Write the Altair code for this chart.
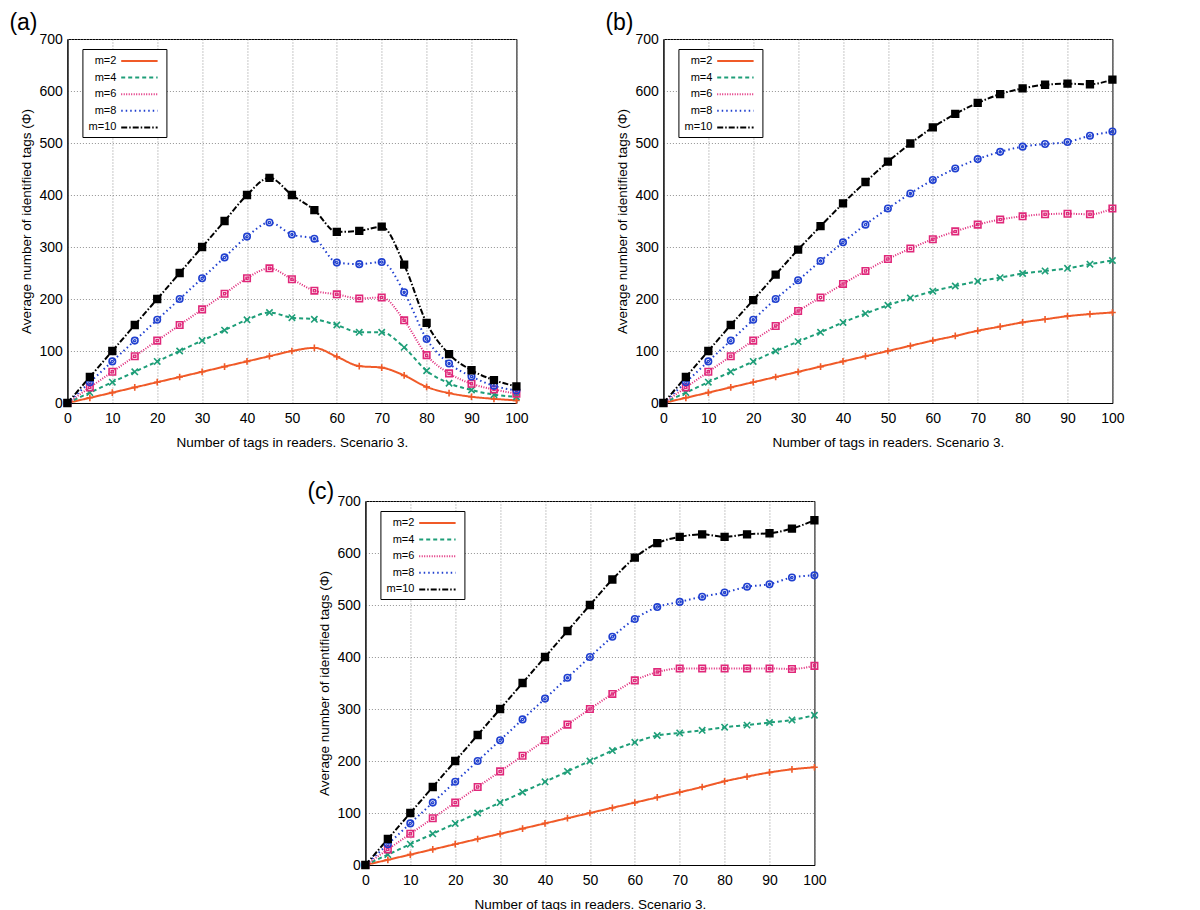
import altair as alt
import pandas as pd

x_vals = list(range(0, 101, 5))
series_names = ["m=2", "m=4", "m=6", "m=8", "m=10"]

# Panel (a)
a_m2 = [0, 10, 20, 30, 40, 50, 60, 70, 80, 90, 100, 106, 89, 71, 68, 53, 31, 19, 12, 8, 5]
a_m4 = [0, 20, 40, 60, 80, 100, 120, 140, 160, 174, 164, 161, 150, 136, 136, 107, 62, 38, 25, 16, 12]
a_m6 = [0, 30, 60, 90, 120, 150, 180, 210, 240, 259, 238, 216, 209, 201, 203, 159, 92, 57, 37, 26, 18]
a_m8 = [0, 40, 80, 120, 160, 200, 240, 280, 320, 347, 324, 316, 270, 267, 271, 213, 123, 76, 51, 33, 24]
a_m10 = [0, 50, 100, 150, 200, 250, 300, 350, 400, 433, 400, 371, 329, 331, 339, 266, 154, 94, 63, 44, 32]

# Panel (b)
b_m2 = [0, 10, 20, 30, 40, 50, 60, 70, 80, 90, 100, 110, 120, 129, 139, 147, 155, 161, 167, 171, 174]
b_m4 = [0, 20, 40, 60, 80, 100, 118, 136, 155, 172, 188, 202, 215, 225, 234, 241, 249, 254, 259, 267, 274]
b_m6 = [0, 30, 60, 90, 120, 148, 177, 203, 229, 254, 277, 297, 315, 330, 343, 353, 359, 363, 364, 363, 374]
b_m8 = [0, 40, 80, 120, 160, 200, 236, 273, 309, 343, 374, 403, 429, 451, 469, 483, 493, 498, 502, 514, 522]
b_m10 = [0, 50, 100, 150, 198, 247, 295, 340, 384, 425, 464, 499, 530, 556, 577, 594, 605, 612, 614, 613, 622]

# Panel (c)
c_m2 = [0, 10, 20, 30, 40, 50, 60, 70, 80, 90, 100, 110, 120, 130, 140, 150, 161, 170, 178, 184, 188]
c_m4 = [0, 20, 40, 60, 80, 100, 120, 140, 160, 180, 200, 220, 236, 249, 254, 259, 265, 269, 274, 279, 288]
c_m6 = [0, 30, 60, 90, 120, 150, 180, 210, 240, 270, 300, 329, 355, 371, 378, 378, 378, 378, 378, 377, 383]
c_m8 = [0, 40, 80, 120, 160, 200, 240, 280, 320, 360, 400, 439, 473, 496, 506, 516, 524, 535, 540, 553, 557]
c_m10 = [0, 50, 100, 150, 200, 250, 300, 350, 400, 450, 500, 549, 591, 619, 631, 636, 631, 636, 638, 647, 663]

x_title = "Number of tags in readers. Scenario 3."
y_title = "Average number of identified tags (Φ)"

colors = ["#f05a28", "#1e9e78", "#e0287a", "#2040d0", "#000000"]
dashes = [[1, 0], [4, 3], [1, 1.5], [1.5, 3], [6, 2, 1.5, 2]]
widths = [2, 2, 1.2, 2, 1.5]
shapes = ["M-1,0L1,0M0,-1L0,1", "M-1,-1L1,1M-1,1L1,-1", "square", "circle", "square"]
fills = ["transparent", "transparent", "transparent", "transparent", "#000000"]
sizes = [45, 40, 42, 42, 45]

FONT = "Liberation Sans"


def make_df(series_lists):
    rows = []
    for name, vals in zip(series_names, series_lists):
        for xv, yv in zip(x_vals, vals):
            rows.append({"x": xv, "y": yv, "series": name})
    return pd.DataFrame(rows)


def panel(label, series_lists, title_offset):
    df = make_df(series_lists)
    xenc = alt.X("x:Q", title=x_title,
                 scale=alt.Scale(domain=[0, 100], nice=False),
                 axis=alt.Axis(values=list(range(0, 101, 10)), labelFlush=False))
    yenc = alt.Y("y:Q", title=y_title,
                 scale=alt.Scale(domain=[0, 700], nice=False),
                 axis=alt.Axis(values=list(range(0, 701, 100)), labelFlush=False))
    base = alt.Chart(df)
    lines = base.mark_line(interpolate="monotone").encode(
        x=xenc, y=yenc,
        color=alt.Color("series:N", scale=alt.Scale(domain=series_names, range=colors),
                        legend=alt.Legend(title=None)),
        strokeDash=alt.StrokeDash("series:N",
                                  scale=alt.Scale(domain=series_names, range=dashes),
                                  legend=alt.Legend(title=None)),
        strokeWidth=alt.StrokeWidth("series:N",
                                    scale=alt.Scale(domain=series_names, range=widths),
                                    legend=None),
    )
    layers = [lines]
    for name, col, shp, fil, sz in zip(series_names, colors, shapes, fills, sizes):
        sub = base.transform_filter(alt.datum.series == name)
        layers.append(sub.mark_point(shape=shp, size=sz, stroke=col, fill=fil,
                                     strokeWidth=1.6, opacity=1).encode(x=xenc, y=yenc))
        if shp in ("square", "circle") and fil == "transparent":
            layers.append(sub.mark_point(shape=shp, size=5, stroke=col, fill="transparent",
                                         strokeWidth=1.2, opacity=1).encode(x=xenc, y=yenc))
    return alt.layer(*layers).properties(
        width=449, height=364,
        title=alt.TitleParams(label, anchor="start", frame="group", dx=-58,
                              offset=title_offset,
                              fontSize=23, fontWeight="normal", font=FONT,
                              color="black"),
    )


pa = panel("(a)", [a_m2, a_m4, a_m6, a_m8, a_m10], -3)
pb = panel("(b)", [b_m2, b_m4, b_m6, b_m8, b_m10], -3)
pc = panel("(c)", [c_m2, c_m4, c_m6, c_m8, c_m10], -10)

res = dict(color="independent", strokeDash="independent", strokeWidth="independent")

top = alt.hconcat(pa, pb, spacing=75).resolve_scale(**res).resolve_legend(
    color="independent", strokeDash="independent")
chart = alt.vconcat(top, pc, spacing=31, center=True).resolve_scale(**res).resolve_legend(
    color="independent", strokeDash="independent"
).properties(
    padding={"left": 0, "top": 3, "right": 0, "bottom": 0}
).configure_view(
    stroke="black", strokeWidth=1
).configure_axis(
    labelFont=FONT, titleFont=FONT, labelFontSize=14, titleFontSize=13.5,
    titleFontWeight="normal", labelColor="black", titleColor="black",
    gridColor="#777777", gridDash=[1, 2], gridWidth=0.8,
    domainColor="black", ticks=False,
).configure_axisX(
    labelPadding=8, titlePadding=10
).configure_axisY(
    labelPadding=5, titlePadding=6
).configure_legend(
    orient="none", legendX=15, legendY=10, strokeColor="black", fillColor="white",
    padding=4, labelFont=FONT, labelFontSize=11, labelColor="black",
    rowPadding=3.6, symbolType="M-2.6,0L2.6,0", symbolSize=196, symbolStrokeWidth=2,
    symbolOffset=45, labelAlign="right", labelOffset={"expr": "-31"}, cornerRadius=0,
)

chart.save("out.html", embed_options={"renderer": "svg", "actions": False})
